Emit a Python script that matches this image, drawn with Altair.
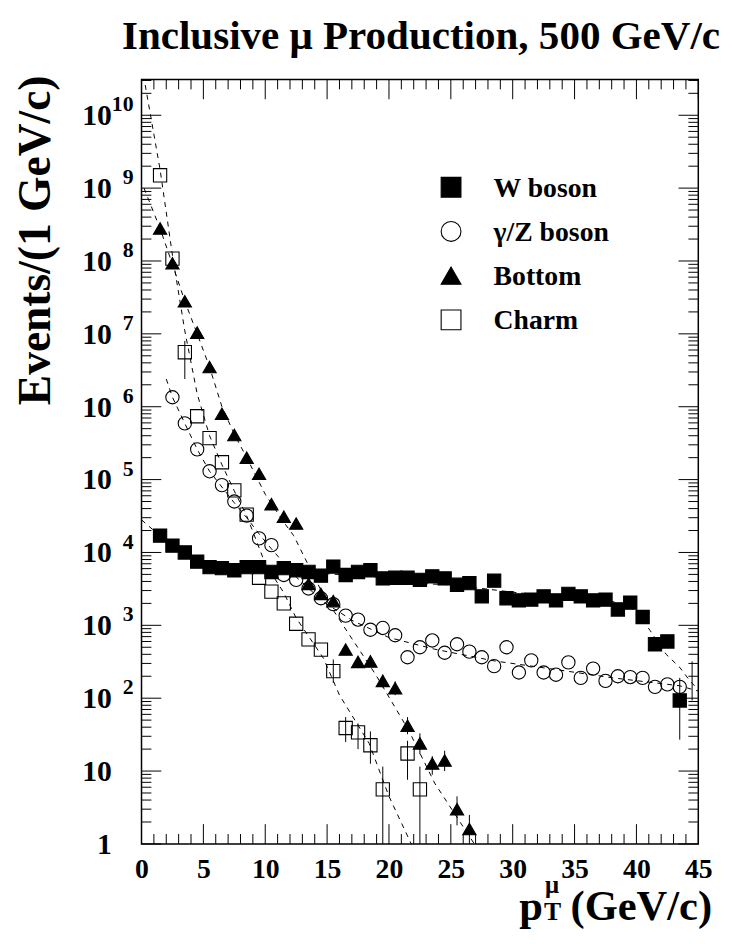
import altair as alt
import pandas as pd

PW, PH = 563, 773
FONT = "Liberation Serif"

# ---------------- data ----------------
x_w = [1.5, 2.5, 3.5, 4.5, 5.5, 6.5, 7.5, 8.5, 9.5, 10.5, 11.5, 12.5, 13.5, 14.5, 15.5,
       16.5, 17.5, 18.5, 19.5, 20.5, 21.5, 22.5, 23.5, 24.5, 25.5, 26.5, 27.5, 28.5, 29.5,
       30.5, 31.5, 32.5, 33.5, 34.5, 35.5, 36.5, 37.5, 38.5, 39.5, 40.5, 41.5, 42.5, 43.5]
w_vals = [1.7e4, 1.24e4, 1.0e4, 7.5e3, 6.3e3, 6.1e3, 5.7e3, 6.3e3, 6.3e3, 5.4e3, 6.1e3, 5.7e3,
          5.4e3, 4.8e3, 6.4e3, 4.9e3, 5.4e3, 5.7e3, 4.4e3, 4.5e3, 4.5e3, 4.2e3, 4.7e3, 4.4e3,
          3.6e3, 3.8e3, 2.5e3, 4.1e3, 2.35e3, 2.2e3, 2.25e3, 2.5e3, 2.2e3, 2.7e3, 2.5e3, 2.2e3,
          2.25e3, 1.65e3, 2.05e3, 1.3e3, 550, 600, 93]

x_gz = [2.5, 3.5, 4.5, 5.5, 6.5, 7.5, 8.5, 9.5, 10.5, 11.5, 12.5, 13.5, 14.5, 15.5,
        16.5, 17.5, 18.5, 19.5, 20.5, 21.5, 22.5, 23.5, 24.5, 25.5, 26.5, 27.5, 28.5, 29.5,
        30.5, 31.5, 32.5, 33.5, 34.5, 35.5, 36.5, 37.5, 38.5, 39.5, 40.5, 41.5, 42.5, 43.5]
gz_vals = [1.35e6, 5.9e5, 2.6e5, 1.3e5, 8.4e4, 5.0e4, 3.2e4, 1.56e4, 1.26e4, 4.9e3, 4.2e3,
           3.2e3, 2.35e3, 1.95e3, 1.36e3, 1.2e3, 870, 920, 730, 365, 500, 620, 420, 550, 435,
           365, 275, 500, 225, 330, 225, 210, 310, 190, 255, 173, 200, 195, 190, 143, 155, 143]

x_b = [1.5, 2.5, 3.5, 4.5, 5.5, 6.5, 7.5, 8.5, 9.5, 10.5, 11.5, 12.5, 13.5, 14.5, 15.5,
       16.5, 17.5, 18.5, 19.5, 20.5, 21.5, 22.5, 23.5, 24.5, 25.5, 26.5]
b_vals = [2.8e8, 9.3e7, 2.8e7, 1.04e7, 3.5e6, 8.0e5, 4.1e5, 2.0e5, 1.2e5, 4.6e4, 3.1e4, 2.5e4,
          3.7e3, 2.7e3, 2.15e3, 465, 315, 320, 173, 137, 42, 24, 12.7, 14, 3.0, 1.6]

x_c = [1.5, 2.5, 3.5, 4.5, 5.5, 6.5, 7.5, 8.5, 9.5, 10.5, 11.5, 12.5, 13.5, 14.5, 15.5,
       16.5, 17.5, 18.5, 19.5, 21.5, 22.5]
c_vals = [1.5e9, 1.08e8, 5.6e6, 7.4e5, 3.7e5, 1.73e5, 7.1e4, 3.3e4, 4.5e3, 2.9e3, 2.0e3,
          1.05e3, 640, 465, 235, 39, 34, 22.6, 5.6, 17.4, 5.6]

# error bars (x, low, high)
err_x = [3.5, 15.5, 16.5, 17.5, 18.5, 19.5, 21.5, 22.5,
         19.5, 20.5, 21.5, 22.5, 23.5, 24.5, 25.5, 26.5,
         41.5, 42.5, 43.5, 44.5]
err_lo = [2.4e6, 162, 25, 20, 12.6, 1, 7.6, 1,
          140, 110, 32, 17, 8.9, 10, 1.8, 1,
          470, 510, 27, 93]
err_hi = [8e6, 340, 55, 45, 35, 11.5, 26, 11.5,
          210, 170, 55, 33, 16, 19, 4.5, 2.5,
          650, 700, 190, 320]

# dashed fit curves
fit_w_x = [0.0, 1.0, 1.5, 2.5, 3.5, 5.0, 7.0, 10.0, 15.0, 20.0, 23.2, 25.0, 30.4, 35.0,
           38.0, 40.0, 41.1, 42.4, 43.5, 44.3, 45.0]
fit_w_y = [2.8e4, 2.0e4, 1.65e4, 1.2e4, 9.5e3, 7.3e3, 6.2e3, 5.6e3, 5.1e3, 4.5e3, 3.7e3,
           3.6e3, 2.8e3, 2.4e3, 2.15e3, 1.6e3, 850, 400, 265, 175, 130]
fit_gz_x = [2.0, 2.5, 3.5, 4.5, 5.5, 6.5, 7.5, 8.5, 9.5, 10.5, 12.5, 14.7, 17.1, 20.0, 23.7,
            28.5, 33.3, 38.1, 43.5, 45.0]
fit_gz_y = [2.4e6, 1.35e6, 5.9e5, 2.6e5, 1.3e5, 7.9e4, 4.8e4, 3.0e4, 1.8e4, 1.12e4, 4.6e3,
            2.1e3, 1.15e3, 680, 470, 325, 250, 190, 148, 125]
fit_b_x = [0.2, 1.5, 2.5, 3.5, 4.5, 5.5, 6.5, 7.5, 8.5, 10.0, 11.5, 12.3, 14.7, 16.8, 18.9,
           21.6, 23.7, 26.9]
fit_b_y = [1.0e9, 2.8e8, 9.0e7, 2.8e7, 1.0e7, 3.5e6, 1.0e6, 4.2e5, 2.0e5, 6.3e4, 2.6e4,
           1.7e4, 2.6e3, 740, 214, 36, 6.8, 1.0]
fit_c_x = [0.3, 1.5, 2.5, 3.5, 4.5, 5.5, 6.5, 7.5, 8.5, 10.0, 11.5, 12.5, 14.7, 16.0, 18.4,
           20.0, 21.8]
fit_c_y = [2.6e10, 1.8e9, 1.2e8, 1.1e7, 1.5e6, 4.0e5, 1.6e5, 7.0e4, 3.2e4, 7.0e3, 2.8e3,
           1.26e3, 355, 110, 24, 4.5, 1.0]

series_names = ["W boson", "γ/Z boson", "Bottom", "Charm"]
series_shapes = ["square", "circle", "triangle-up", "square"]
series_fills = ["black", "transparent", "black", "transparent"]
series_sizes = [180, 180, 200, 180]

title_text = "Inclusive μ Production, 500 GeV/c"
ytitle_text = "Events/(1 GeV/c)"

x_major = [0, 5, 10, 15, 20, 25, 30, 35, 40, 45]
x_minor = [v for v in range(46) if v % 5 != 0]
y_major = [10.0 ** e for e in range(11)]
y_minor = [k * 10.0 ** e for e in range(11) for k in range(2, 10) if k * 10.0 ** e < 3.1e10]

y_lab_vals = [1, 10, 1e2, 1e3, 1e4, 1e5, 1e6, 1e7, 1e8, 1e9, 1e10]
y_lab_base = ["1", "10", "10", "10", "10", "10", "10", "10", "10", "10", "10"]
y_lab_exp = ["", "", "2", "3", "4", "5", "6", "7", "8", "9", "10"]

# ---------------- build tables ----------------
pts = pd.concat([
    pd.DataFrame({"series": "Charm", "x": x_c, "y": c_vals}),
    pd.DataFrame({"series": "γ/Z boson", "x": x_gz, "y": gz_vals}),
    pd.DataFrame({"series": "W boson", "x": x_w, "y": w_vals}),
    pd.DataFrame({"series": "Bottom", "x": x_b, "y": b_vals}),
], ignore_index=True)
pts["ord"] = range(len(pts))

fits = pd.concat([
    pd.DataFrame({"series": "W", "x": fit_w_x, "y": fit_w_y}),
    pd.DataFrame({"series": "GZ", "x": fit_gz_x, "y": fit_gz_y}),
    pd.DataFrame({"series": "B", "x": fit_b_x, "y": fit_b_y}),
    pd.DataFrame({"series": "C", "x": fit_c_x, "y": fit_c_y}),
], ignore_index=True)

errs = pd.DataFrame({"x": err_x, "lo": err_lo, "hi": err_hi})

xs = alt.Scale(domain=[0, 45], nice=False, zero=False)
ys = alt.Scale(type="log", domain=[1, 3.1e10], nice=False)
xaxis = alt.Axis(values=x_major, labelFont=FONT, labelFontSize=28, labelFontWeight="bold",
                 labelColor="black", ticks=False, domain=False, grid=False, labelPadding=12,
                 labelFlush=False, labelOverlap=False, title=None, format="d")


def X(field):
    return alt.X(field, scale=xs, axis=xaxis)


def Y(field):
    return alt.Y(field, scale=ys, axis=None)


layers = []

# ticks (inward, ROOT style)
for vals, ln in ((x_major, 20), (x_minor, 10)):
    d = pd.DataFrame({"v": vals})
    layers.append(alt.Chart(d).mark_rule(color="black", strokeWidth=1).encode(
        x=X("v:Q"), y=alt.value(PH), y2=alt.value(PH - ln)))
    layers.append(alt.Chart(d).mark_rule(color="black", strokeWidth=1).encode(
        x=X("v:Q"), y=alt.value(0), y2=alt.value(ln)))
for vals, ln in ((y_major, 20), (y_minor, 10)):
    d = pd.DataFrame({"v": vals})
    layers.append(alt.Chart(d).mark_rule(color="black", strokeWidth=1).encode(
        y=Y("v:Q"), x=alt.value(0), x2=alt.value(ln)))
    layers.append(alt.Chart(d).mark_rule(color="black", strokeWidth=1).encode(
        y=Y("v:Q"), x=alt.value(PW), x2=alt.value(PW - ln)))

# fit curves
layers.append(alt.Chart(fits).mark_line(color="black", strokeWidth=1, strokeDash=[5, 5],
                                         clip=True).encode(
    x=X("x:Q"), y=Y("y:Q"), detail="series:N"))

# error bars
layers.append(alt.Chart(errs).mark_rule(color="black", strokeWidth=1, clip=True).encode(
    x=X("x:Q"), y=Y("lo:Q"), y2="hi:Q"))

# markers
layers.append(alt.Chart(pts).mark_point(filled=True, stroke="black", strokeWidth=1.1,
                                         opacity=1, clip=True).encode(
    x=X("x:Q"), y=Y("y:Q"),
    shape=alt.Shape("series:N", scale=alt.Scale(domain=series_names, range=series_shapes),
                    legend=None),
    fill=alt.Fill("series:N", scale=alt.Scale(domain=series_names, range=series_fills),
                  legend=None),
    size=alt.Size("series:N", scale=alt.Scale(domain=series_names, range=series_sizes),
                  legend=None),
    order="ord:Q"))

# y tick labels
ylab = pd.DataFrame({"v": y_lab_vals, "base": y_lab_base, "exp": y_lab_exp})
layers.append(alt.Chart(ylab).mark_text(align="right", baseline="alphabetic", font=FONT,
                                         fontSize=30, fontWeight="bold", dy=10,
                                         color="black").encode(
    y=Y("v:Q"), x=alt.value(-30), text="base:N"))
layers.append(alt.Chart(ylab).mark_text(align="right", baseline="alphabetic", font=FONT,
                                         fontSize=22, fontWeight="bold", dy=-4,
                                         color="black").encode(
    y=Y("v:Q"), x=alt.value(-8), text="exp:N"))

# titles
layers.append(alt.Chart(pd.DataFrame({"t": [title_text]})).mark_text(
    align="right", baseline="alphabetic", font=FONT, fontSize=41.5, fontWeight="bold",
    color="black").encode(text="t:N", x=alt.value(585), y=alt.value(-31)))
layers.append(alt.Chart(pd.DataFrame({"t": [ytitle_text]})).mark_text(
    align="right", baseline="alphabetic", font=FONT, fontSize=46, fontWeight="bold",
    angle=270, color="black").encode(text="t:N", x=alt.value(-93), y=alt.value(-4)))

xt = [("p", 43, "right", 406, 850), ("μ", 25, "left", 408, 823), ("T", 26, "left", 407, 850),
      ("(GeV/c)", 43, "right", 577, 850)]
for txt, fs, al, px, py in xt:
    layers.append(alt.Chart(pd.DataFrame({"t": [txt]})).mark_text(
        align=al, baseline="alphabetic", font=FONT, fontSize=fs, fontWeight="bold",
        color="black").encode(text="t:N", x=alt.value(px), y=alt.value(py)))

# legend
for i, (nm, shp, fl) in enumerate(zip(series_names, series_shapes, series_fills)):
    cy = 109 + i * 44.7
    d = pd.DataFrame({"name": [nm]})
    layers.append(alt.Chart(d).mark_point(shape=shp, size=400, filled=True, fill=fl,
                                           stroke="black", strokeWidth=1.1, opacity=1).encode(
        x=alt.value(313), y=alt.value(cy)))
    layers.append(alt.Chart(d).mark_text(align="left", baseline="alphabetic", font=FONT,
                                          fontSize=28, fontWeight="bold", color="black").encode(
        text="name:N", x=alt.value(356), y=alt.value(cy + 9.5)))

chart = alt.layer(*layers).properties(
    width=PW, height=PH,
    padding={"left": 135, "top": 67, "right": 27, "bottom": 101},
    autosize=alt.AutoSizeParams(type="none"),
).configure_view(stroke="black", strokeWidth=1.5)

chart.save("out.html", embed_options={"renderer": "svg", "actions": False})
